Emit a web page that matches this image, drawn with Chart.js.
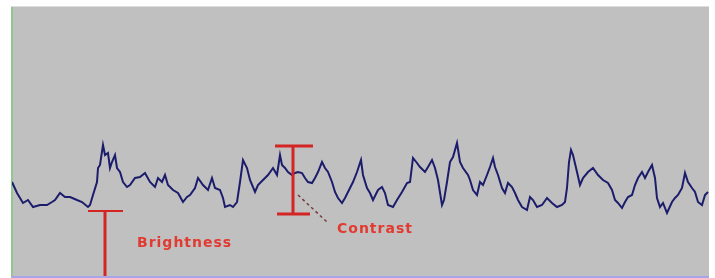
<!DOCTYPE html>
<html><head><meta charset="utf-8">
<script src="https://cdn.jsdelivr.net/npm/chart.js@4/dist/chart.umd.min.js"></script>
<style>html,body{margin:0;padding:0;background:#fff;overflow:hidden}</style>
</head><body>
<canvas id="c" width="715" height="278" style="display:block"></canvas>
<script>
// Signal trace: time position and signal level
const traceT = [0,5,11,16,21,28,35,40,43,48,53,58,65,70,76,78,81,85,86,88,91,93,96,98,100,103,105,108,111,115,
118,123,128,133,138,143,146,150,153,156,161,166,171,175,178,183,186,191,196,200,203,208,211,213,218,221,225,228,
231,235,238,243,246,251,256,261,265,268,270,273,276,280,283,286,290,293,296,300,303,306,310,313,316,320,323,326,330,333,336,341,345,
349,351,355,358,361,366,370,373,376,381,385,390,395,398,401,405,408,413,416,420,423,426,430,432,435,438,441,445,448,451,456,
458,461,465,468,471,475,478,481,483,486,490,493,496,500,503,506,510,515,518,521,525,530,535,540,545,550,553,555,557,559,561,565,568,571,576,
581,586,591,596,600,603,606,610,613,616,620,623,626,630,633,636,640,643,645,648,651,655,660,663,666,670,673,676,680,683,686,690,693,696];
const traceLevel = [94,83,73,76,69,71,71,74,76,83,79,79,76,74,69,71,81,94,108,111,131,121,123,108,114,121,108,104,94,89,
91,98,99,103,94,89,98,94,101,91,86,83,74,79,81,88,98,91,86,98,88,86,78,69,71,69,74,94,
116,108,96,84,91,96,101,108,101,121,111,108,104,101,103,104,103,98,94,93,98,104,114,108,104,94,84,78,73,78,84,94,104,
116,101,88,83,76,86,89,83,71,69,76,84,93,94,118,113,109,104,109,116,108,96,71,76,94,114,119,133,114,108,101,
96,86,81,94,91,101,109,118,109,101,88,83,93,89,83,76,69,66,79,76,69,71,78,73,69,71,74,88,114,126,121,104,91,98,104,
108,101,96,93,86,76,73,68,74,79,81,91,98,104,98,104,111,98,78,69,73,63,74,78,81,88,103,94,88,84,74,71,81,84];
const xRange = [0, 697];
const yRange = [0, 269];
// Brightness: level of the baseline
const brightnessAt = [93];
const brightnessLevel = [65];
const brightnessBar = [76, 111];
// Contrast: swing of the signal
const contrastAt = [281];
const contrastLevels = [62, 130];
const contrastTopBar = [263, 301];
const contrastBottomBar = [265, 298];
const contrastLink = [[286, 81], [315, 54]];
const labelTexts = ["Brightness", "Contrast"];
const labelAnchors = [[125, 33], [325, 47]];

const RED = '#d42424';
const bgPlugin = {
  id: 'bg',
  beforeDraw(chart) {
    const {ctx, chartArea: a} = chart;
    ctx.save();
    ctx.fillStyle = '#c0c0c0';
    ctx.fillRect(a.left, a.top, a.right - a.left, a.bottom - a.top);
    ctx.fillStyle = '#dcdcdc';
    ctx.fillRect(a.left - 1, a.top - 1, a.right - a.left + 1, 1);
    ctx.fillStyle = '#90c890';
    ctx.fillRect(a.left - 1, a.top, 2, a.bottom - a.top + 1);
    ctx.fillStyle = '#a8a4e6';
    ctx.fillRect(a.left - 1, a.bottom, a.right - a.left + 1, 2);
    ctx.restore();
  }
};
const annoPlugin = {
  id: 'anno',
  afterDatasetsDraw(chart) {
    const {ctx, scales: {x, y}} = chart;
    const X = v => x.getPixelForValue(v), Y = v => y.getPixelForValue(v);
    ctx.save();
    ctx.strokeStyle = RED;
    ctx.lineCap = 'butt';
    // brightness marker
    ctx.lineWidth = 3;
    ctx.beginPath();
    ctx.moveTo(X(brightnessAt[0]), Y(0));
    ctx.lineTo(X(brightnessAt[0]), Y(brightnessLevel[0]));
    ctx.stroke();
    ctx.lineWidth = 2;
    ctx.beginPath();
    ctx.moveTo(X(brightnessBar[0]), Y(brightnessLevel[0]));
    ctx.lineTo(X(brightnessBar[1]), Y(brightnessLevel[0]));
    ctx.stroke();
    // contrast I-beam
    ctx.lineWidth = 3;
    ctx.beginPath();
    ctx.moveTo(X(contrastAt[0]), Y(contrastLevels[0]));
    ctx.lineTo(X(contrastAt[0]), Y(contrastLevels[1]));
    ctx.moveTo(X(contrastTopBar[0]), Y(contrastLevels[1]));
    ctx.lineTo(X(contrastTopBar[1]), Y(contrastLevels[1]));
    ctx.moveTo(X(contrastBottomBar[0]), Y(contrastLevels[0]));
    ctx.lineTo(X(contrastBottomBar[1]), Y(contrastLevels[0]));
    ctx.stroke();
    // dashed link
    ctx.strokeStyle = '#7a3a3a';
    ctx.lineWidth = 1.5;
    ctx.setLineDash([3, 3]);
    ctx.beginPath();
    ctx.moveTo(X(contrastLink[0][0]), Y(contrastLink[0][1]));
    ctx.lineTo(X(contrastLink[1][0]), Y(contrastLink[1][1]));
    ctx.stroke();
    ctx.setLineDash([]);
    // labels
    ctx.fillStyle = '#e23a30';
    ctx.font = 'bold 14px "DejaVu Sans"';
    ctx.letterSpacing = '1px';
    ctx.textBaseline = 'middle';
    ctx.textAlign = 'left';
    labelTexts.forEach((t, i) => {
      ctx.fillText(t, X(labelAnchors[i][0]), Y(labelAnchors[i][1]));
    });
    ctx.restore();
  }
};

new Chart(document.getElementById('c'), {
  type: 'line',
  data: {
    datasets: [{
      data: traceT.map((t, i) => ({x: t, y: traceLevel[i]})),
      borderColor: '#1c1c6c',
      borderWidth: 2,
      pointRadius: 0,
      tension: 0,
      fill: false
    }]
  },
  options: {
    responsive: false,
    animation: false,
    devicePixelRatio: 1,
    layout: {padding: {left: 12, top: 7, right: 6, bottom: 2}},
    plugins: {legend: {display: false}, tooltip: {enabled: false}},
    scales: {
      x: {type: 'linear', display: false, min: xRange[0], max: xRange[1]},
      y: {type: 'linear', display: false, min: yRange[0], max: yRange[1]}
    }
  },
  plugins: [bgPlugin, annoPlugin]
});
</script>
</body></html>
